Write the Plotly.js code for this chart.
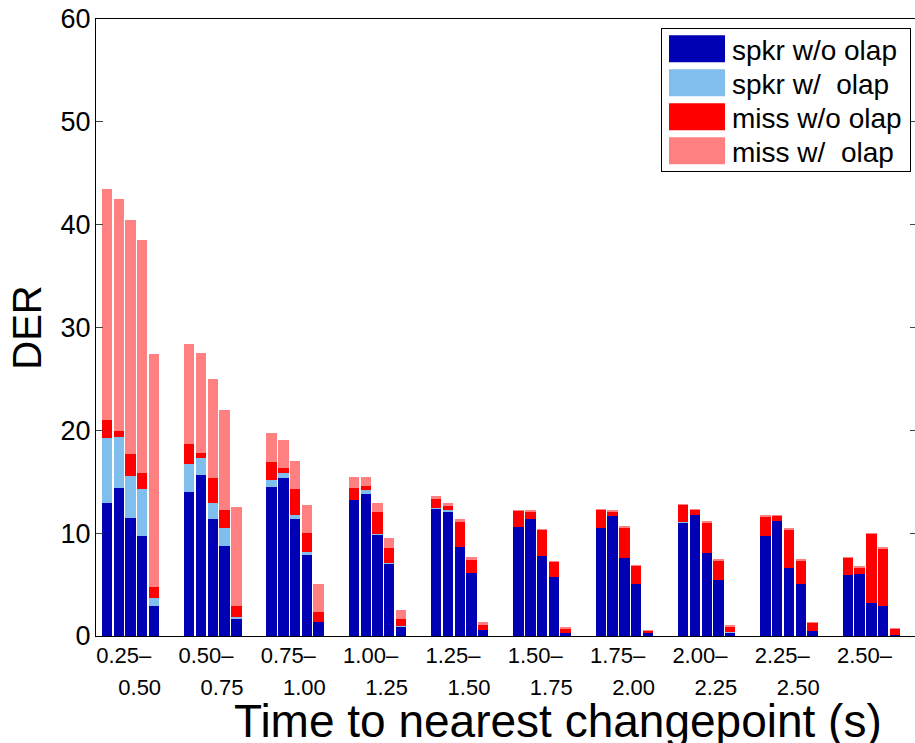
<!DOCTYPE html>
<html>
<head>
<meta charset="utf-8">
<script src="https://cdn.plot.ly/plotly-3.0.1.min.js"></script>
<style>
html, body { margin: 0; padding: 0; overflow: hidden; background: #fff; }
#chart { width: 925px; height: 743px; }
</style>
</head>
<body>
<div id="chart"></div>
<script>
// Groups (time-to-changepoint bins) and per-group bar values (5 bars per group)
const groupStart = ["0.25", "0.50", "0.75", "1.00", "1.25", "1.50", "1.75", "2.00", "2.25", "2.50"];
const groupEnd   = ["0.50", "0.75", "1.00", "1.25", "1.50", "1.75", "2.00", "2.25", "2.50", ""];

const spkrNoOlap = [
  12.97, 14.36, 11.51, 9.69, 2.87,
  14.00, 15.63, 11.41, 8.71, 1.64,
  14.49, 15.37, 11.37, 7.84, 1.34,
  13.19, 13.78, 9.81, 7.03, 0.86,
  12.35, 12.09, 8.65, 6.11, 0.54,
  10.59, 11.34, 7.74, 5.70, 0.27,
  10.53, 11.66, 7.58, 5.08, 0.27,
  11.02, 11.76, 8.06, 5.47, 0.34,
  9.69, 11.15, 6.64, 5.08, 0.44,
  5.92, 6.02, 3.19, 2.94, 0.08
];
const spkrOlap = [
  6.29, 4.97, 4.05, 4.57, 0.81,
  2.77, 1.65, 1.52, 1.76, 0.19,
  0.65, 0.45, 0.36, 0.32, 0.07,
  0.07, 0.45, 0.07, 0.09, 0.09,
  0.05, 0.20, 0.03, 0.02, 0.02,
  0.03, 0.02, 0.03, 0.02, 0.01,
  0.02, 0.03, 0.02, 0.02, 0.01,
  0.02, 0.03, 0.02, 0.02, 0.01,
  0.02, 0.03, 0.02, 0.02, 0.01,
  0.02, 0.02, 0.02, 0.02, 0.01
];
const missNoOlap = [
  1.74, 0.58, 2.11, 1.63, 1.04,
  1.88, 0.49, 2.41, 1.82, 1.04,
  1.78, 0.49, 2.53, 1.82, 0.88,
  1.17, 0.33, 2.17, 1.46, 0.68,
  0.90, 0.35, 2.37, 1.22, 0.50,
  1.50, 0.73, 2.50, 1.44, 0.39,
  1.70, 0.39, 2.89, 1.66, 0.20,
  1.66, 0.43, 2.92, 1.85, 0.56,
  1.88, 0.51, 3.66, 2.20, 0.81,
  1.63, 0.55, 6.69, 5.51, 0.55
];
const missOlap = [
  22.50, 22.62, 22.76, 22.65, 22.69,
  9.73, 9.71, 9.70, 9.67, 9.64,
  2.80, 2.73, 2.73, 2.73, 2.72,
  1.07, 0.87, 0.92, 0.91, 0.91,
  0.36, 0.26, 0.32, 0.29, 0.30,
  0.17, 0.20, 0.17, 0.16, 0.17,
  0.13, 0.14, 0.16, 0.10, 0.13,
  0.12, 0.13, 0.14, 0.13, 0.15,
  0.16, 0.10, 0.14, 0.14, 0.13,
  0.12, 0.17, 0.10, 0.14, 0.17
];

const seriesNames = ["spkr w/o olap", "spkr w/\u00a0 olap", "miss w/o olap", "miss w/\u00a0 olap"];
const seriesColors = ["#0000B4", "#80BEEE", "#FF0000", "#FF8080"];
const xTitle = "Time to nearest changepoint (s)";
const yTitle = "DER";

const barsPerGroup = 5;
const slotsPerGroup = 7;
const xs = [];
for (let g = 0; g < groupStart.length; g++) {
  for (let k = 0; k < barsPerGroup; k++) xs.push(g * slotsPerGroup + k);
}
const tickPos = groupStart.map((_, g) => g * slotsPerGroup + 2.1);

const font = "Liberation Sans, Arial, Helvetica, sans-serif";
const values = [spkrNoOlap, spkrOlap, missNoOlap, missOlap];
const traces = values.map((v, i) => ({
  type: "bar",
  x: xs,
  y: v,
  name: seriesNames[i],
  width: 0.88,
  marker: { color: seriesColors[i], line: { width: 0 } },
  hoverinfo: "skip"
}));

// invisible helper trace so that the second (label-line) x axis is drawn
traces.push({ type: "scatter", x: [0], y: [0], xaxis: "x2", yaxis: "y", mode: "markers",
  marker: { opacity: 0 }, showlegend: false, hoverinfo: "skip" });

const layout = {
  width: 925,
  height: 743,
  margin: { l: 96, r: 8, t: 19, b: 107 },
  paper_bgcolor: "#fff",
  plot_bgcolor: "#fff",
  barmode: "stack",
  font: { family: font, color: "#000" },
  showlegend: true,
  legend: {
    x: 0.9915, xanchor: "right", y: 0.9854, yanchor: "top",
    bgcolor: "#fff", bordercolor: "#000", borderwidth: 1,
    font: { family: font, size: 28, color: "#000" },
    traceorder: "normal", itemwidth: 60, tracegroupgap: 0
  },
  xaxis: {
    range: [-0.935, 68.88],
    showgrid: false, zeroline: false,
    showline: true, linecolor: "#000", linewidth: 1, mirror: true,
    ticks: "",
    tickmode: "array",
    tickvals: tickPos,
    ticktext: groupStart.map(s => s + "\u2013"),
    ticklabelshift: -8,
    ticklabelstandoff: 0,
    tickfont: { family: font, size: 22, color: "#000" }
  },
  xaxis2: {
    overlaying: "x", matches: "x", anchor: "y", side: "bottom",
    range: [-0.935, 68.88],
    showgrid: false, zeroline: false, showline: false, ticks: "",
    tickmode: "array",
    tickvals: tickPos,
    ticktext: groupEnd,
    ticklabelshift: 8,
    ticklabelstandoff: 36,
    tickfont: { family: font, size: 22, color: "#000" }
  },
  yaxis: {
    range: [0, 60],
    tickvals: [0, 10, 20, 30, 40, 50, 60],
    showgrid: false, zeroline: false,
    showline: true, linecolor: "#000", linewidth: 1, mirror: "ticks",
    ticks: "inside", ticklen: 7, tickcolor: "#444", tickwidth: 1,
    ticklabelstandoff: -1,
    tickfont: { family: font, size: 27, color: "#000" },
    title: { text: yTitle, font: { family: font, size: 40, color: "#000" }, standoff: 6 }
  },
  annotations: [{
    text: xTitle, xref: "paper", yref: "paper", x: 0.5627, y: -0.137,
    xanchor: "center", yanchor: "middle", showarrow: false,
    font: { family: font, size: 46, color: "#000" }
  }]
};

Plotly.newPlot("chart", traces, layout, { staticPlot: true, displayModeBar: false }).then(() => {
  // MATLAB-style large legend patches with tighter row spacing
  document.querySelectorAll(".legend .legendpoints path").forEach(p => {
    p.setAttribute("d", "M28,13.5H-28V-13.5H28Z");
  });
  const items = document.querySelectorAll(".legend .traces");
  let x0 = 0, y0 = 0;
  items.forEach((it, i) => {
    const m = /translate\(\s*([-\d.]+)[ ,]+([-\d.]+)/.exec(it.getAttribute("transform") || "");
    if (i === 0 && m) { x0 = parseFloat(m[1]); y0 = parseFloat(m[2]); }
    const x = m ? parseFloat(m[1]) : x0;
    it.setAttribute("transform", "translate(" + x + "," + (y0 - 5 + i * 34) + ")");
  });
  const bg = document.querySelector(".legend rect.bg");
  if (bg) { bg.setAttribute("height", "143"); bg.setAttribute("width", "249"); }
  const lg = document.querySelector("g.legend");
  if (lg) {
    const m = /translate\(\s*([-\d.]+)[ ,]+([-\d.]+)/.exec(lg.getAttribute("transform") || "");
    if (m) lg.setAttribute("transform", "translate(661," + parseFloat(m[2]) + ")");
  }
});
</script>
</body>
</html>
